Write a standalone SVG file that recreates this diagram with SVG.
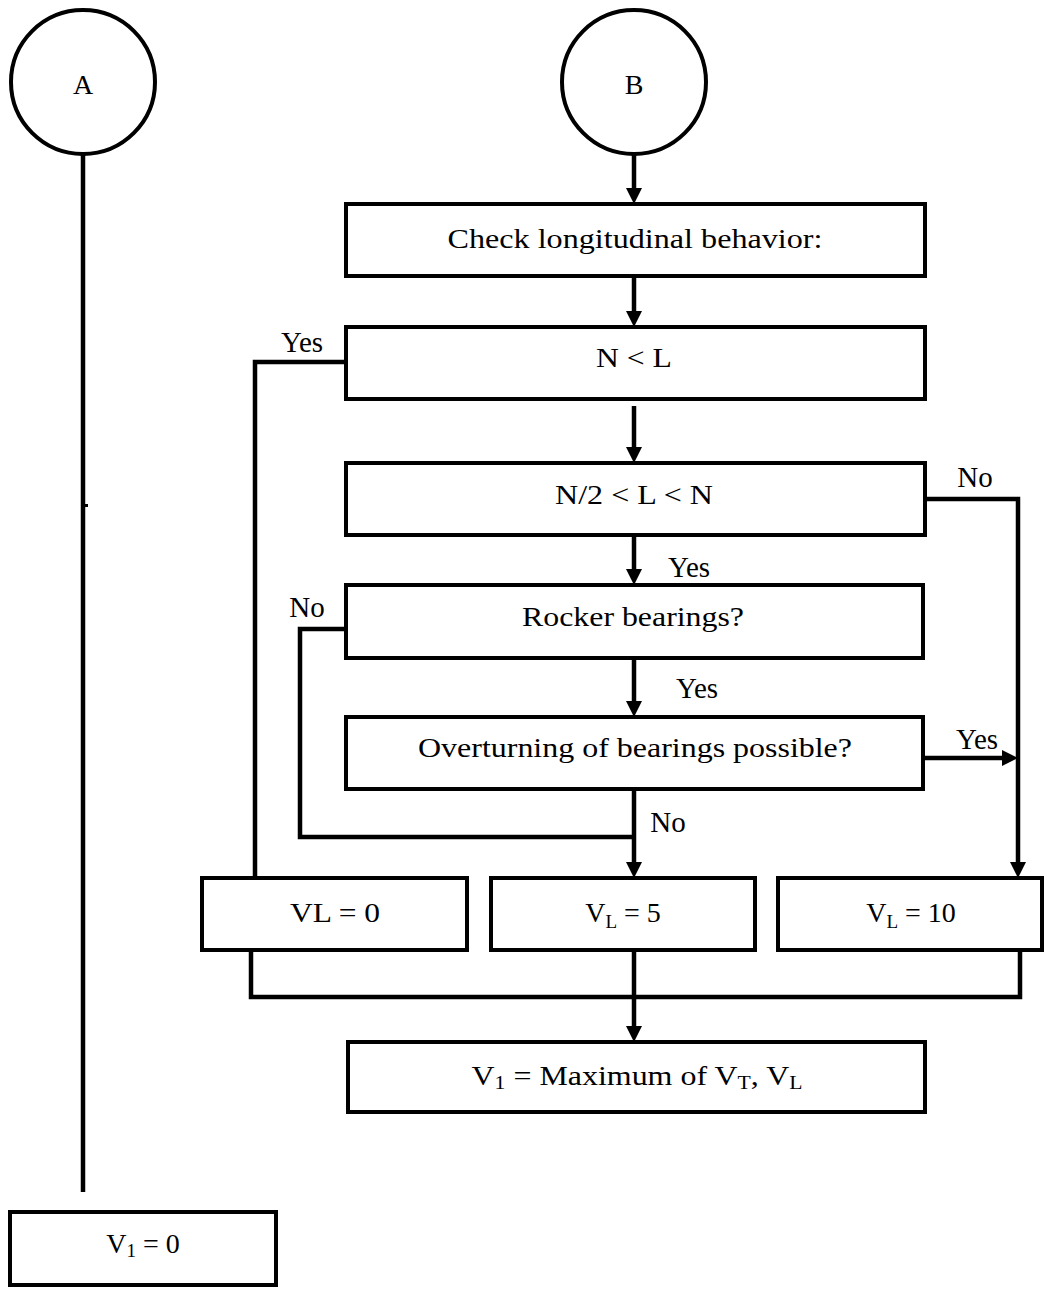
<svg xmlns="http://www.w3.org/2000/svg" width="1045" height="1289" viewBox="0 0 1045 1289">
<style>
.box{fill:#fff;stroke:#000;stroke-width:4}
.node-c{fill:#fff;stroke:#000;stroke-width:4}
.t{font-family:"Liberation Serif","Times New Roman",serif;font-size:28px;fill:#000;text-anchor:middle}
.lbl{font-family:"Liberation Serif","Times New Roman",serif;font-size:29px;fill:#000;text-anchor:middle}
.sub{font-size:19px}
.ln{fill:none;stroke:#000;stroke-width:4.5}
</style>
<defs>
<marker id="ah" markerUnits="userSpaceOnUse" markerWidth="18" markerHeight="18" refX="5" refY="8" orient="auto">
<path d="M0,0 L16,8 L0,16 z" fill="#000"/>
</marker>
</defs>
<g id="connectors">
<path class="ln" d="M83 155 V1192"/>
<rect x="85" y="504" width="3" height="3" fill="#000"/>
<path class="ln" d="M634 155 V193" marker-end="url(#ah)"/>
<path class="ln" d="M634 276 V316" marker-end="url(#ah)"/>
<path class="ln" d="M346 362 H255 V878"/>
<path class="ln" d="M634 406 V452" marker-end="url(#ah)"/>
<path class="ln" d="M634 535 V574" marker-end="url(#ah)"/>
<path class="ln" d="M346 629 H300 V837 H634"/>
<path class="ln" d="M634 658 V706" marker-end="url(#ah)"/>
<path class="ln" d="M634 789 V867" marker-end="url(#ah)"/>
<path class="ln" d="M923 758 H1007" marker-end="url(#ah)"/>
<path class="ln" d="M925 499 H1018 V867" marker-end="url(#ah)"/>
<path class="ln" d="M251 950 V997 H1020 V950"/>
<path class="ln" d="M634 950 V1031" marker-end="url(#ah)"/>
<text class="lbl" x="302" y="352">Yes</text>
<text class="lbl" x="975" y="487">No</text>
<text class="lbl" x="689" y="577">Yes</text>
<text class="lbl" x="307" y="617">No</text>
<text class="lbl" x="697" y="698">Yes</text>
<text class="lbl" x="977" y="749">Yes</text>
<text class="lbl" x="668" y="832">No</text>
</g>
<g id="nodeA">
<circle class="node-c" cx="83" cy="82" r="72"/>
<text class="t" x="83" y="94">A</text>
</g>
<g id="nodeB">
<circle class="node-c" cx="634" cy="82" r="72"/>
<text class="t" x="634" y="94">B</text>
</g>
<g id="check">
<rect class="box" x="346" y="204" width="579" height="72"/>
<text class="t" x="635" y="248" textLength="375" lengthAdjust="spacingAndGlyphs">Check longitudinal behavior:</text>
</g>
<g id="nl">
<rect class="box" x="346" y="327" width="579" height="72"/>
<text class="t" x="634" y="367" textLength="76" lengthAdjust="spacingAndGlyphs">N &lt; L</text>
</g>
<g id="n2">
<rect class="box" x="346" y="463" width="579" height="72"/>
<text class="t" x="634" y="504" textLength="158" lengthAdjust="spacingAndGlyphs">N/2 &lt; L &lt; N</text>
</g>
<g id="rocker">
<rect class="box" x="346" y="585" width="577" height="73"/>
<text class="t" x="633" y="626" textLength="222" lengthAdjust="spacingAndGlyphs">Rocker bearings?</text>
</g>
<g id="overturn">
<rect class="box" x="346" y="717" width="577" height="72"/>
<text class="t" x="635" y="757" textLength="434" lengthAdjust="spacingAndGlyphs">Overturning of bearings possible?</text>
</g>
<g id="vl0">
<rect class="box" x="202" y="878" width="265" height="72"/>
<text class="t" x="335" y="922" textLength="90" lengthAdjust="spacingAndGlyphs">VL = 0</text>
</g>
<g id="vl5">
<rect class="box" x="491" y="878" width="264" height="72"/>
<text class="t" x="623" y="922">V<tspan class="sub" dy="6">L</tspan><tspan dy="-6"> = 5</tspan></text>
</g>
<g id="vl10">
<rect class="box" x="778" y="878" width="264" height="72"/>
<text class="t" x="911" y="922">V<tspan class="sub" dy="6">L</tspan><tspan dy="-6"> = 10</tspan></text>
</g>
<g id="vmax">
<rect class="box" x="348" y="1042" width="577" height="70"/>
<text class="t" x="637" y="1085" textLength="331" lengthAdjust="spacingAndGlyphs">V<tspan class="sub" dy="4">1</tspan><tspan dy="-4"> = Maximum of V</tspan><tspan class="sub" dy="4">T</tspan><tspan dy="-4">, V</tspan><tspan class="sub" dy="4">L</tspan></text>
</g>
<g id="v10">
<rect class="box" x="10" y="1212" width="266" height="73"/>
<text class="t" x="143" y="1253">V<tspan class="sub" dy="4">1</tspan><tspan dy="-4"> = 0</tspan></text>
</g>
</svg>
